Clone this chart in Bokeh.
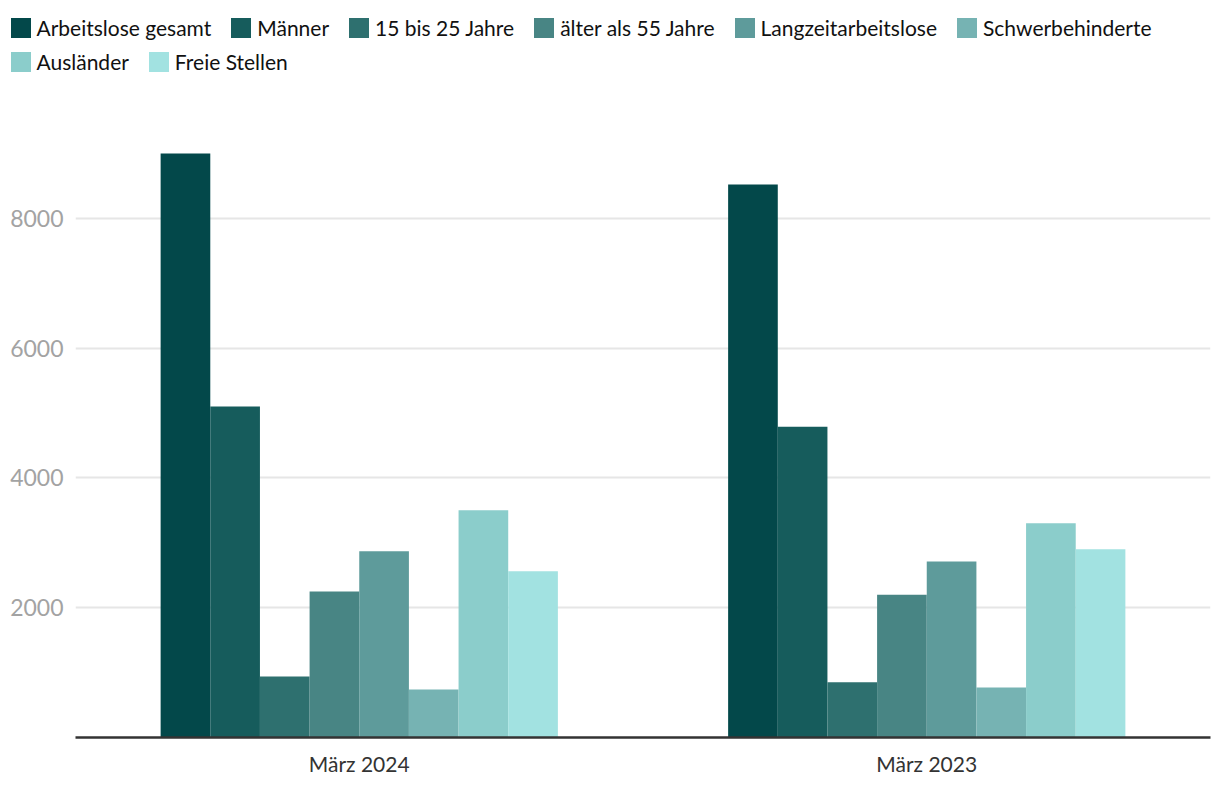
from bokeh.plotting import figure
from bokeh.layouts import column, row
from bokeh.models import ColumnDataSource, FactorRange, Range1d, Legend, LegendItem, FixedTicker
from bokeh.transform import dodge
from bokeh.embed import file_html
from bokeh.resources import INLINE

months = ["März 2024", "März 2023"]
series = ["Arbeitslose gesamt", "Männer", "15 bis 25 Jahre", "älter als 55 Jahre",
          "Langzeitarbeitslose", "Schwerbehinderte", "Ausländer", "Freie Stellen"]
arbeitslose_gesamt = [9000, 8520]
maenner = [5100, 4790]
jahre_15_25 = [940, 850]
aelter_55 = [2250, 2200]
langzeit = [2870, 2710]
schwerbehinderte = [740, 770]
auslaender = [3500, 3300]
freie_stellen = [2560, 2900]
colors = ["#03484A", "#165C5C", "#2E706F", "#488584", "#5E9B9B", "#76B3B3", "#8BCDCB", "#A2E2E1"]
y_ticks = [2000, 4000, 6000, 8000]

values = [arbeitslose_gesamt, maenner, jahre_15_25, aelter_55, langzeit,
          schwerbehinderte, auslaender, freie_stellen]
keys = ["s%d" % i for i in range(len(series))]
data = {"month": months}
for k, v in zip(keys, values):
    data[k] = v
source = ColumnDataSource(data)

FONT = "Lato"
W = 1212
n = len(series)
bw = 0.7 / n

# ---- legend strip: its own small figure with hidden proxy renderers ----
pl = figure(width=W, height=88, x_range=FactorRange(*months), y_range=Range1d(0, 10000),
            x_axis_type=None, y_axis_type=None, min_border=0,
            output_backend="svg", toolbar_location=None)
pl.outline_line_color = None
pl.xgrid.visible = False
pl.ygrid.visible = False
leg_renderers = []
for i, k in enumerate(keys):
    off = (i - (n - 1) / 2) * bw
    r = pl.vbar(x=dodge("month", off, range=pl.x_range), top=k, width=bw,
                source=source, fill_color=colors[i], line_color=None)
    r.visible = False
    leg_renderers.append(r)

def make_legend(idx, loc):
    items = [LegendItem(label=series[i], renderers=[leg_renderers[i]]) for i in idx]
    return Legend(items=items, orientation="horizontal", location=loc,
                  padding=0, margin=0, spacing=17, label_standoff=4,
                  glyph_width=25, glyph_height=25,
                  label_text_font=FONT, label_text_font_size="21px",
                  label_text_color="#111111", label_height=25,
                  inactive_fill_alpha=0,
                  border_line_color=None, background_fill_alpha=0)

pl.add_layout(make_legend([0, 1, 2, 3, 4, 5], (7.5, 48)))
pl.add_layout(make_legend([6, 7], (7.5, 14)))

# ---- main chart ----
p = figure(x_range=FactorRange(*months), y_range=Range1d(0, 10000),
           width=W, height=698,
           min_border_left=75, min_border_right=2, min_border_top=0, min_border_bottom=49,
           output_backend="svg", toolbar_location=None)
p.outline_line_color = None
p.background_fill_color = "white"

for i, k in enumerate(keys):
    off = (i - (n - 1) / 2) * bw
    p.vbar(x=dodge("month", off, range=p.x_range), top=k, width=bw, source=source,
           fill_color=colors[i], line_color=None)

p.xgrid.grid_line_color = None
p.ygrid.grid_line_color = "#e6e6e6"
p.ygrid.grid_line_width = 2
p.ygrid.ticker = FixedTicker(ticks=y_ticks)

p.yaxis.ticker = FixedTicker(ticks=y_ticks)
p.yaxis.axis_line_color = None
p.yaxis.major_tick_line_color = None
p.yaxis.major_tick_out = 0
p.yaxis.major_tick_in = 0
p.yaxis.minor_tick_line_color = None
p.yaxis.major_label_text_color = "#a3a3a3"
p.yaxis.major_label_text_font = FONT
p.yaxis.major_label_text_font_size = "23px"
p.yaxis.major_label_standoff = 12

p.xaxis.axis_line_color = "#333333"
p.xaxis.axis_line_width = 2.5
p.xaxis.major_tick_line_color = None
p.xaxis.major_tick_out = 0
p.xaxis.major_tick_in = 0
p.xaxis.minor_tick_line_color = None
p.xaxis.major_label_text_color = "#333333"
p.xaxis.major_label_text_font = FONT
p.xaxis.major_label_text_font_size = "21px"
p.xaxis.major_label_standoff = 13

layout = column(row(pl), p, spacing=0)
open("out.html", "w").write(file_html(layout, INLINE))
